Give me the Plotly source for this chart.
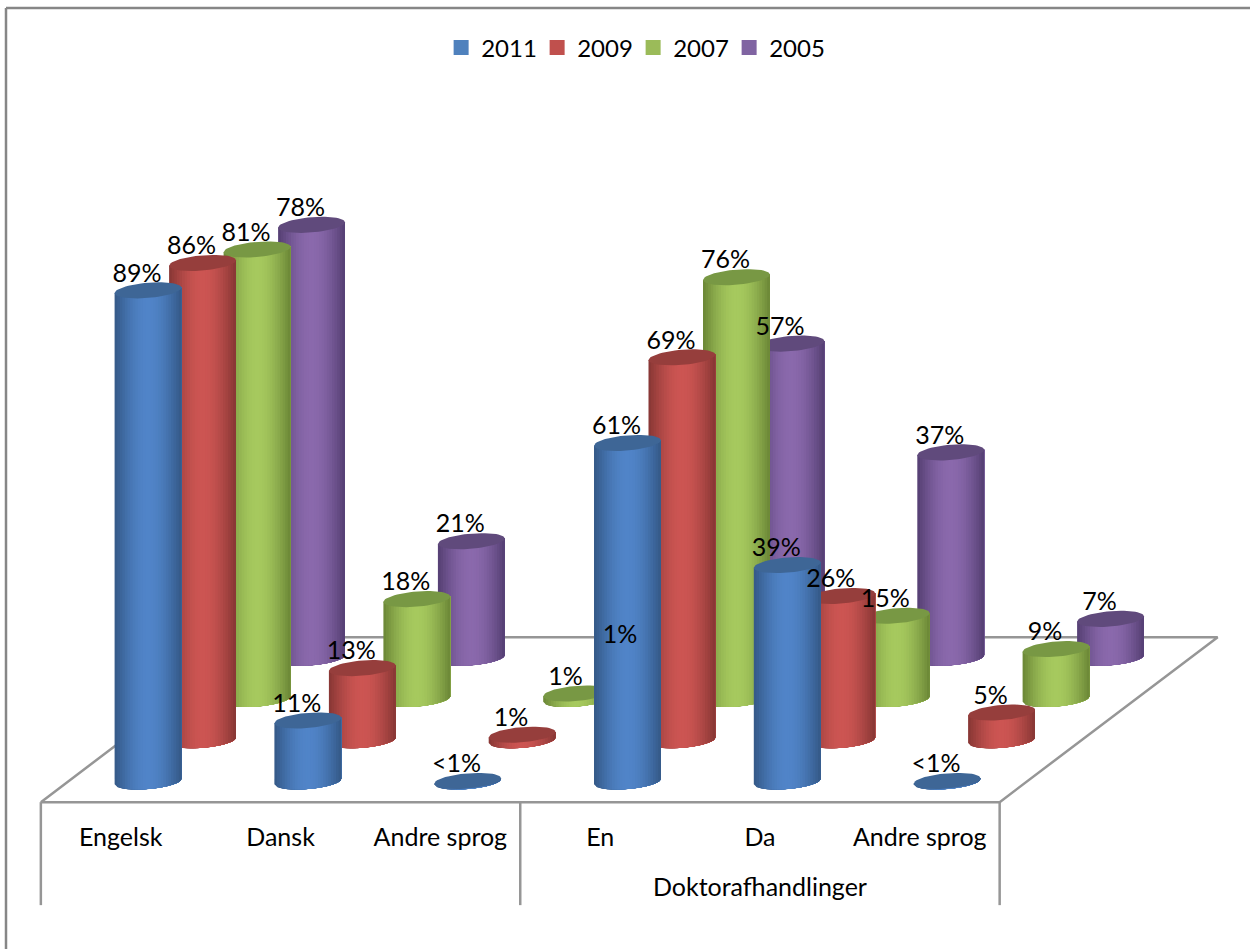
import math
import plotly.graph_objects as go

categories = ["Engelsk", "Dansk", "Andre sprog", "En", "Da", "Andre sprog"]
group_label = "Doktorafhandlinger"
series_names = ["2011", "2009", "2007", "2005"]
v2011 = [88.5, 11, 0.1, 61, 39, 0.1]
v2009 = [86, 13, 1, 69, 26, 5]
v2007 = [81, 18, 1, 76, 15, 9]
v2005 = [78, 21, 1, 56.6, 37, 7]
l2011 = ["89%", "11%", "<1%", "61%", "39%", "<1%"]
l2009 = ["86%", "13%", "1%", "69%", "26%", "5%"]
l2007 = ["81%", "18%", "1%", "76%", "15%", "9%"]
l2005 = ["78%", "21%", "1%", "57%", "37%", "7%"]
values = [v2011, v2009, v2007, v2005]
labels = [l2011, l2009, l2007, l2005]

W, H = 1250, 949
FONT = "Lato"
FS = 25
# scales: pixels per category / per percent, and oblique offset per series (depth)
PX_CAT, PX_PCT = 159.8, 5.55
DX = 54.5 / PX_CAT
DY = 41.25 / PX_PCT
X0_PX, Y0_PX = 148.0, 781.5
A = 33.4 / PX_CAT      # cylinder half width
B = 7.6 / PX_PCT       # ellipse half height
K = 2.7 / PX_PCT       # tilt of the ellipse (rise at right end)
N = 26

edge = [(52, 88, 134), (134, 54, 52), (106, 134, 54), (84, 62, 114)]
mid = [(80, 132, 200), (204, 85, 82), (166, 201, 94), (138, 105, 172)]
cap = [(62, 102, 150), (150, 62, 60), (120, 152, 68), (96, 74, 124)]
legend_col = ["#4F81BD", "#C0504D", "#9BBB59", "#8064A2"]


def rgb(c):
    return "rgb(%d,%d,%d)" % tuple(round(v) for v in c)


def ox(c, s):
    return c + s * DX


def oy(s, v=0.0):
    return v + s * DY


fig = go.Figure()


def poly(xs, ys, color):
    fig.add_trace(go.Scatter(x=xs, y=ys, mode="lines", fill="toself", fillcolor=color,
                             line=dict(width=0, color=color), hoverinfo="skip", showlegend=False))


# floor and the axis table
LC = "#969696"
fx = [ox(-0.5, -0.5), ox(5.5, -0.5), ox(5.5, 3.5), ox(-0.5, 3.5), ox(-0.5, -0.5)]
fy = [oy(-0.5), oy(-0.5), oy(3.5), oy(3.5), oy(-0.5)]
fig.add_trace(go.Scatter(x=fx, y=fy, mode="lines", line=dict(color=LC, width=2.5),
                         hoverinfo="skip", showlegend=False))
drop = -103 / PX_PCT
for c in (-0.5, 2.5, 5.5):
    fig.add_trace(go.Scatter(x=[ox(c, -0.5)] * 2, y=[oy(-0.5), oy(-0.5) + drop], mode="lines",
                             line=dict(color=LC, width=2.5), hoverinfo="skip", showlegend=False))

# cylinders, back to front
for s in range(3, -1, -1):
    for c in range(6):
        v = values[s][c]
        cx = ox(c, s)
        yb = oy(s)
        yt = oy(s, v)
        for i in range(N):
            u0 = -1 + 2 * i / N
            t = (i + 0.5) / N
            w = math.sin(math.pi * t)
            col = [edge[s][j] + (mid[s][j] - edge[s][j]) * w for j in range(3)]
            us = [u0 + (1 - u0) * q / 24 for q in range(25)]
            xs = [cx + A * u for u in us]
            ys = [yb + K * u - B * math.sqrt(max(0, 1 - u * u)) for u in us]
            xs += [cx + A, cx + A * u0]
            ys += [yt + K, yt + K * u0]
            poly(xs, ys, rgb(col))
        th = [2 * math.pi * q / 60 for q in range(61)]
        poly([cx + A * math.cos(a) for a in th],
             [yt + K * math.cos(a) + B * math.sin(a) for a in th], rgb(cap[s]))

# data labels
LX = -11.0 / PX_CAT
LY = 15 / PX_PCT
for s in range(4):
    fig.add_trace(go.Scatter(
        x=[ox(c, s) + LX for c in range(6)],
        y=[oy(s, values[s][c]) + LY for c in range(6)],
        text=labels[s], mode="text", textposition="middle center",
        textfont=dict(family=FONT, size=FS, color="black"),
        hoverinfo="skip", showlegend=False))

# category labels
fig.add_trace(go.Scatter(
    x=[ox(c, -0.5) for c in range(6)], y=[oy(-0.5) - 38 / PX_PCT] * 6,
    text=categories, mode="text", textposition="middle center",
    textfont=dict(family=FONT, size=FS, color="black"), hoverinfo="skip", showlegend=False))
fig.add_trace(go.Scatter(
    x=[ox(4, -0.5)], y=[oy(-0.5) - 88 / PX_PCT],
    text=[group_label], mode="text", textposition="middle center",
    textfont=dict(family=FONT, size=FS, color="black"), hoverinfo="skip", showlegend=False))

# legend entries
for s in range(4):
    fig.add_trace(go.Scatter(x=[None], y=[None], mode="markers", name=series_names[s],
                             marker=dict(symbol="square", size=15, color=legend_col[s])))

fig.update_layout(
    width=W, height=H, margin=dict(l=0, r=0, t=0, b=0, autoexpand=False),
    paper_bgcolor="white", plot_bgcolor="white",
    xaxis=dict(visible=False, range=[-X0_PX / PX_CAT, (W - X0_PX) / PX_CAT], domain=[0, 1]),
    yaxis=dict(visible=False, range=[(Y0_PX - H) / PX_PCT, Y0_PX / PX_PCT], domain=[0, 1]),
    legend=dict(orientation="h", x=0.5065, xanchor="center", y=0.9495, yanchor="middle",
                font=dict(family=FONT, size=24, color="black"),
                entrywidth=51, entrywidthmode="pixels", itemwidth=30, traceorder="normal",
                bgcolor="rgba(0,0,0,0)"),
    shapes=[
        dict(type="line", xref="paper", yref="paper", x0=6 / W, x1=1, y0=1 - 8 / H, y1=1 - 8 / H,
             line=dict(color="#868686", width=2.5)),
        dict(type="line", xref="paper", yref="paper", x0=6 / W, x1=6 / W, y0=0, y1=1 - 8 / H,
             line=dict(color="#868686", width=2.5)),
    ],
)

fig.write_html("out.html", config={"displayModeBar": False},
               post_script="document.body.style.margin='0';document.body.style.overflow='hidden';")
